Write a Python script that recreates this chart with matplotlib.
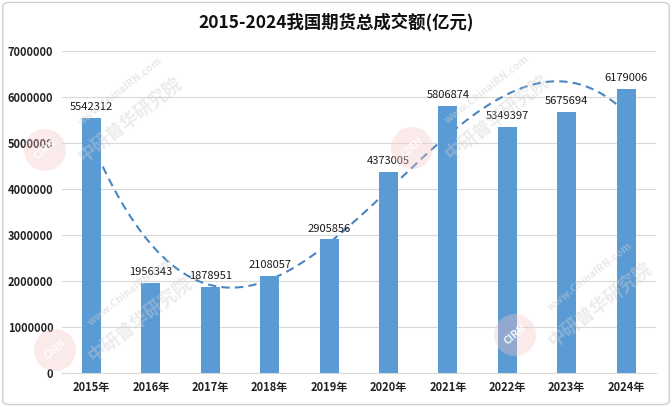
import numpy as np
import matplotlib.pyplot as plt
from matplotlib.patches import Ellipse, FancyBboxPatch

plt.rcParams['font.family'] = ['Noto Sans CJK SC', 'DejaVu Sans']

# === 数据 ===
years = ["2015年", "2016年", "2017年", "2018年", "2019年",
         "2020年", "2021年", "2022年", "2023年", "2024年"]
volumes = [5542312, 1956343, 1878951, 2108057, 2905856,
           4373005, 5806874, 5349397, 5675694, 6179006]
title = "2015-2024我国期货总成交额(亿元)"

BAR_COLOR = "#5B9BD5"
W, H = 672, 407

fig = plt.figure(figsize=(W / 100, H / 100), dpi=100)
fig.patch.set_facecolor("white")
fig.patches.append(FancyBboxPatch((0.004, 0.006), 0.992, 0.988,
                                  boxstyle="round,pad=0,rounding_size=0.01",
                                  transform=fig.transFigure, fill=False,
                                  edgecolor="#D0D0D0", linewidth=1.0))

ax = fig.add_axes([0.092, 0.0835, 0.884, 0.7915])
x = np.arange(len(years))

# === marcas de agua ===
def watermark(px, py):
    fx, fy = px / W, 1 - py / H
    fig.patches.append(Ellipse((fx, fy), 42 / W, 42 / H, transform=fig.transFigure,
                               facecolor="#F6C4C4", edgecolor="none", alpha=0.35,
                               zorder=0))
    fig.text(fx, fy, "CIRN", fontsize=7.5, color="white", alpha=0.9,
             rotation=40, ha="center", va="center", fontweight="bold", zorder=1)
    fig.text(fx + 75 / W, fy + 58 / H, "www.ChinaIRN.com", fontsize=7.5,
             color="#CFCFCF", alpha=0.45, rotation=38, ha="center",
             va="center", fontweight="bold", zorder=1)
    fig.text(fx + 85 / W, fy + 30 / H, "中研普华研究院", fontsize=13,
             color="#CFCFCF", alpha=0.4, rotation=38, ha="center",
             va="center", fontweight="bold", zorder=1)

for pos in [(45, 150), (412, 148), (55, 350), (515, 335)]:
    watermark(*pos)

ax.patch.set_alpha(0)

# === trend line (polinomio, detrás de las barras) ===
coef = np.polyfit(x, volumes, 3)
xs = np.linspace(0, len(years) - 1, 200)
ax.plot(xs, np.polyval(coef, xs), linestyle=(0, (4, 2.5)), color="#4A86C0",
        linewidth=1.5, zorder=2)

bars = ax.bar(x, volumes, width=0.32, color=BAR_COLOR, zorder=3)
for xi, v in zip(x, volumes):
    ax.text(xi, v + 120000, str(v), ha="center", va="bottom",
            fontsize=8, color="#1A1A1A", zorder=4)

ax.set_xlim(-0.5, len(years) - 0.5)
ax.set_ylim(0, 7000000)
ax.set_yticks(np.arange(0, 7000001, 1000000))
ax.set_yticklabels([str(int(t)) for t in np.arange(0, 7000001, 1000000)],
                   fontsize=8, fontweight="bold", color="#222222")
ax.set_xticks(x)
ax.set_xticklabels(years, fontsize=8, fontweight="bold", color="#222222")
ax.grid(axis="y", color="#D9D9D9", linewidth=0.8, zorder=0)
ax.tick_params(length=0, pad=6)
for s in ["top", "right", "left"]:
    ax.spines[s].set_visible(False)
ax.spines["bottom"].set_color("#D9D9D9")

fig.text(0.5, 0.945, title, ha="center", va="center", fontsize=12.5,
         fontweight="bold", color="#111111")

fig.savefig("out.png", dpi=100)
